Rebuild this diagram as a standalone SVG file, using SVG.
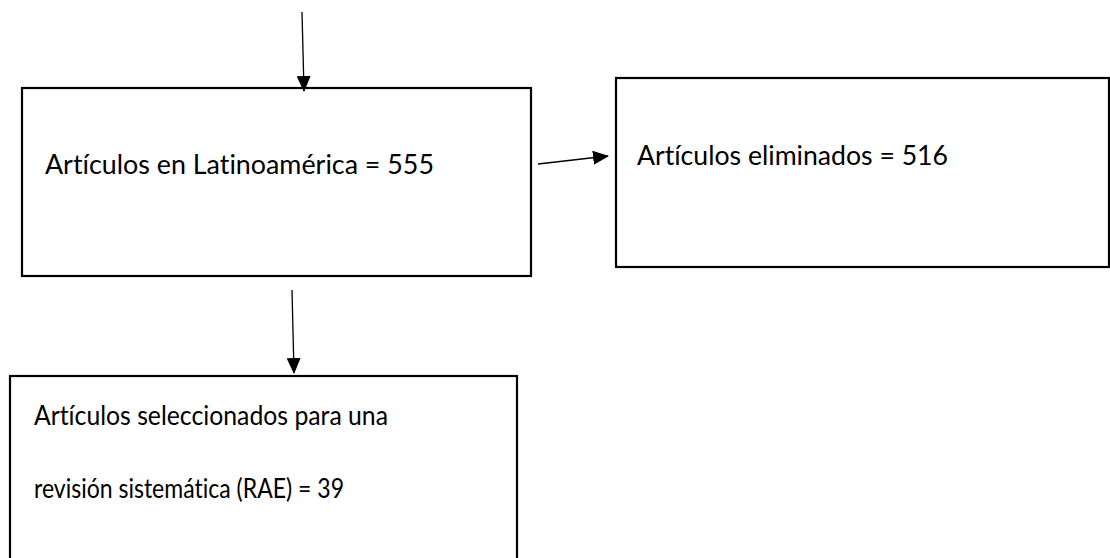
<svg xmlns="http://www.w3.org/2000/svg" width="1110" height="558" viewBox="0 0 1110 558">
<defs>
<marker id="ah" markerWidth="16" markerHeight="14" refX="15" refY="7" orient="auto" markerUnits="userSpaceOnUse" viewBox="0 0 16 14"><path d="M0,0 L16,7 L0,14 Z" fill="#000"/></marker>
<style>
.box{fill:#fff;stroke:#000;stroke-width:2.2}
.t{font-family:Lato,"Liberation Sans",Arial,sans-serif;font-size:26px;fill:#000;font-variant-ligatures:none}
.c{stroke:#000;stroke-width:1.3;fill:none;marker-end:url(#ah)}
</style>
</defs>
<rect width="1110" height="558" fill="#fff"/>
<g id="n1"><rect class="box" x="22" y="88" width="509" height="188"/><text class="t" x="45" y="174" textLength="389" lengthAdjust="spacingAndGlyphs">Artículos en Latinoamérica = 555</text></g>
<g id="n2"><rect class="box" x="616" y="78" width="493" height="189"/><text class="t" x="637" y="165" textLength="311" lengthAdjust="spacingAndGlyphs">Artículos eliminados = 516</text></g>
<g id="n3"><rect class="box" x="10" y="376" width="507" height="190"/><text class="t" x="34" y="425" textLength="354" lengthAdjust="spacingAndGlyphs">Artículos seleccionados para una</text><text class="t" x="34" y="498" textLength="310" lengthAdjust="spacingAndGlyphs">revisión sistemática (RAE) = 39</text></g>
<g id="connectors">
<line class="c" x1="302" y1="12" x2="304" y2="91"/>
<line class="c" x1="538" y1="164" x2="608" y2="156"/>
<line class="c" x1="292" y1="290" x2="294" y2="373"/>
</g>
</svg>
